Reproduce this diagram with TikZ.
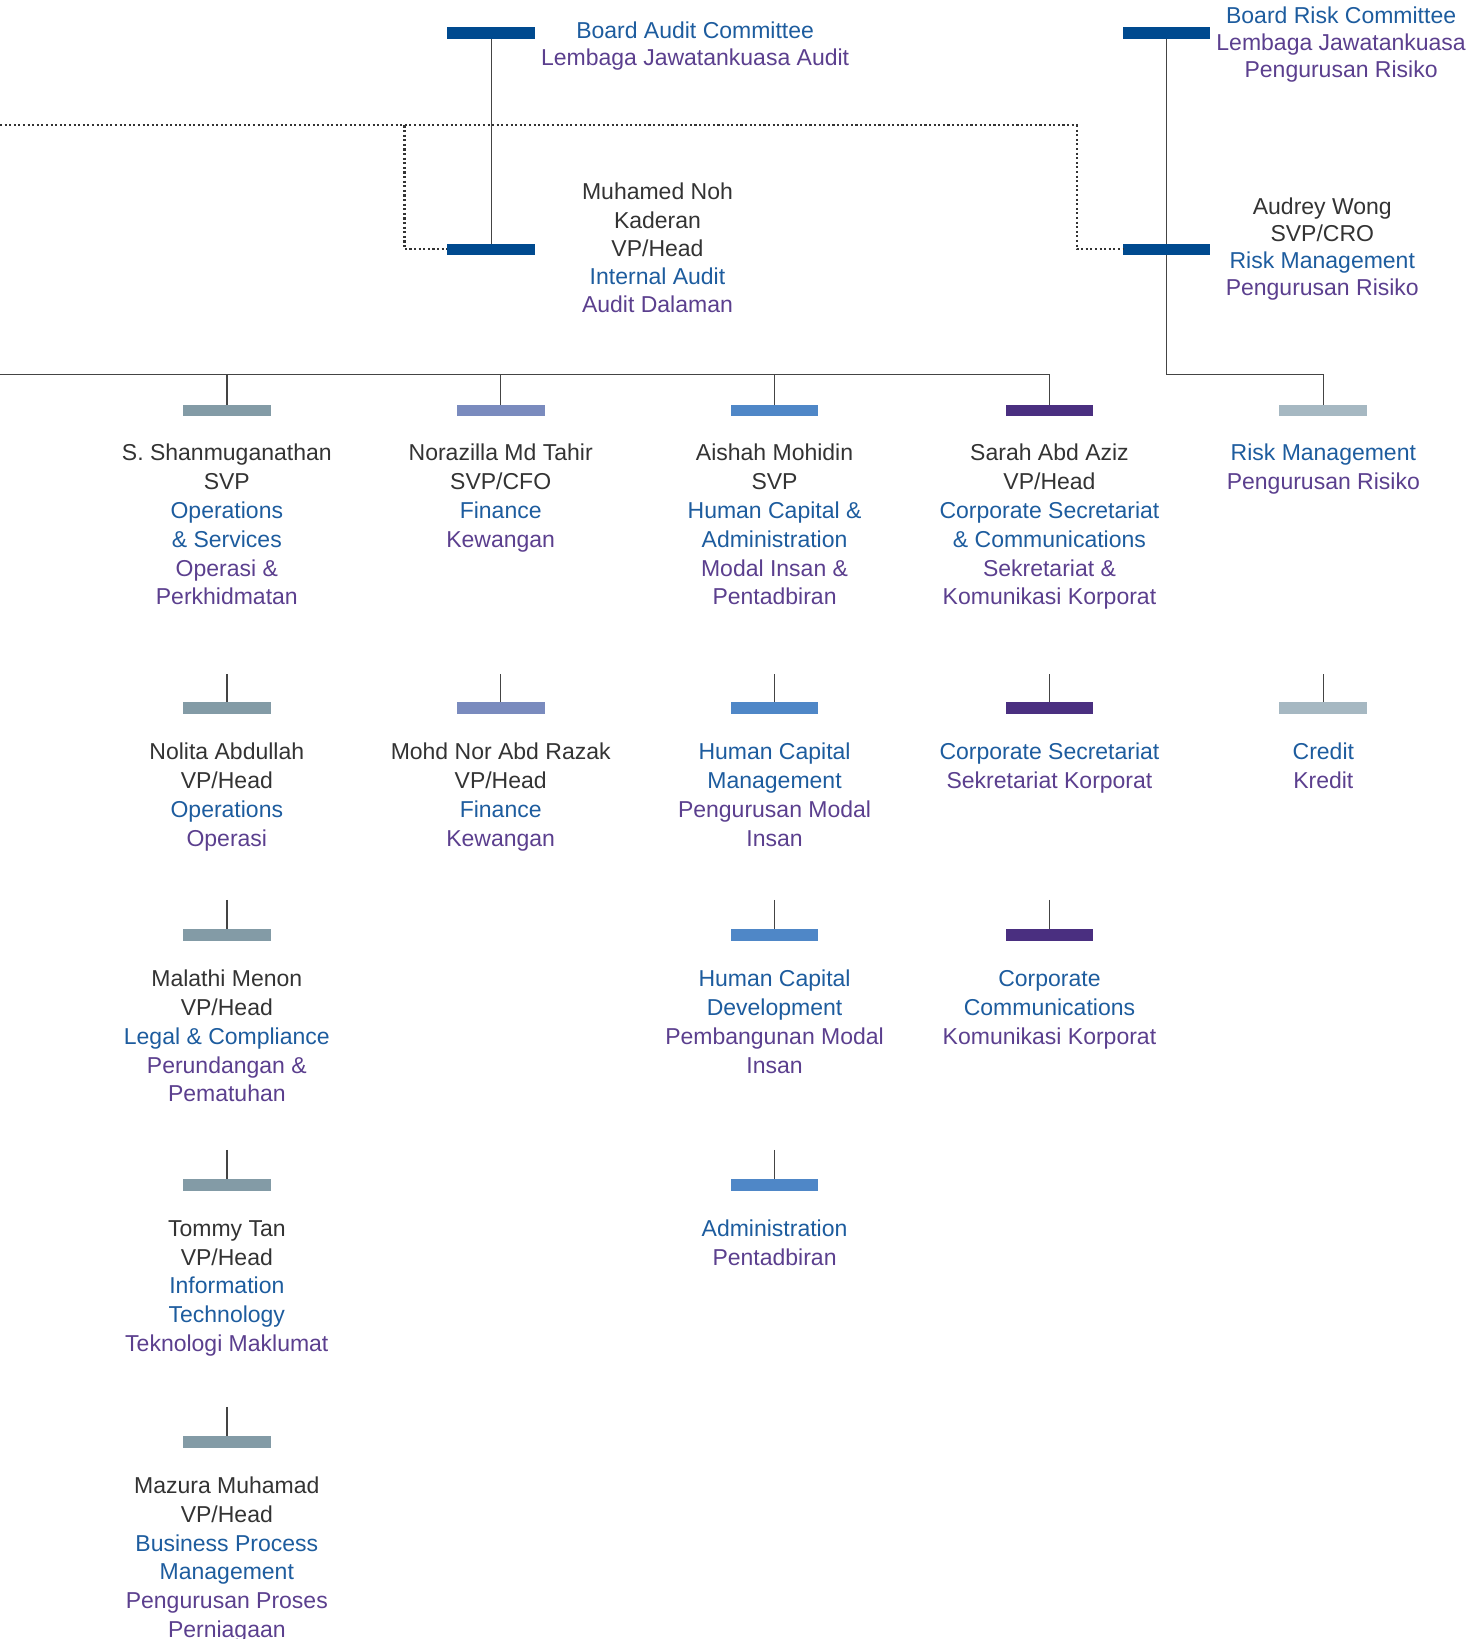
\documentclass[tikz,border=0pt]{standalone}
\usepackage{fontspec}
\setmainfont{Liberation Sans}
\definecolor{topbar}{HTML}{004A8F}
\definecolor{cA}{HTML}{839BA6}
\definecolor{cB}{HTML}{7A8BBE}
\definecolor{cC}{HTML}{4F87C7}
\definecolor{cD}{HTML}{4A2F80}
\definecolor{cE}{HTML}{A6B8C2}
\definecolor{tblue}{HTML}{1D5C9E}
\definecolor{tpurp}{HTML}{5B3F8E}
\definecolor{tdark}{HTML}{333333}
\definecolor{lnc}{HTML}{444444}
\newcommand\blu[1]{\textcolor{tblue}{#1}}
\newcommand\pur[1]{\textcolor{tpurp}{#1}}
\begin{document}
\begin{tikzpicture}[x=1pt,y=-1pt,
  bar/.style={rectangle, minimum width=84pt, minimum height=11pt, inner sep=0pt, outer sep=0pt, draw=none},
  txt/.style={anchor=north, align=center, inner sep=0pt, text=tdark, font=\fontsize{22}{27.6}\selectfont},
  link/.style={draw=lnc, line width=1.3pt},
  dots/.style={draw=tdark, line width=2pt, dash pattern=on 2pt off 2.4pt}]
\useasboundingbox (0,0) rectangle (1417,1568);
% ---- top: audit
\node[bar, fill=topbar] (bac) at (470,31.5) {};
\node[bar, fill=topbar] (ia) at (470,238.5) {};
\node[txt, font=\fontsize{22}{25}\selectfont] (bact) at (665,19.5) {\strut\blu{Board Audit Committee}\\\pur{Lembaga Jawatankuasa Audit}};
\node[txt, font=\fontsize{22}{27}\selectfont] (iat) at (629,172.2) {\strut Muhamed Noh\\Kaderan\\VP/Head\\\blu{Internal Audit}\\\pur{Audit Dalaman}};
\draw[link] (bac.south) -- (ia.north);
% ---- top: risk
\node[bar, fill=topbar] (brc) at (1116,31.5) {};
\node[bar, fill=topbar] (rm) at (1116,238.5) {};
\node[txt, font=\fontsize{22}{26}\selectfont] (brct) at (1283,4.0) {\strut\blu{Board Risk Committee}\\\pur{Lembaga Jawatankuasa}\\\pur{Pengurusan Risiko}};
\node[txt, font=\fontsize{22}{25.7}\selectfont] (rmt) at (1265,187.2) {\strut Audrey Wong\\SVP/CRO\\\blu{Risk Management}\\\pur{Pengurusan Risiko}};
\draw[link] (brc.south) -- (rm.north);
% ---- dotted reporting lines
\coordinate (dl) at (0,120);
\coordinate (dA) at (387,120);
\coordinate (dB) at (1030,120);
\draw[dots] (dl) -- (dB) -- (dB |- rm.west) -- (rm.west);
\draw[dots] (dA) -- (dA |- ia.west) -- (ia.west);
% ---- row 1
\node[bar, fill=cA] (a1) at (217,392.5) {};
\node[bar, fill=cB] (b1) at (479,392.5) {};
\node[bar, fill=cC] (c1) at (741,392.5) {};
\node[bar, fill=cD] (d1) at (1004,392.5) {};
\node[bar, fill=cE] (e1) at (1266,392.5) {};
\coordinate (hl) at (0,358);
\coordinate (hA) at (217,358);
\coordinate (hB) at (479,358);
\coordinate (hC) at (741,358);
\coordinate (hD) at (1004,358);
\coordinate (hE) at (1116,358);
\coordinate (hF) at (1266,358);
\draw[link] (hl) -- (hD) -- (d1.north);
\draw[link] (hA) -- (a1.north);
\draw[link] (hB) -- (b1.north);
\draw[link] (hC) -- (c1.north);
\draw[link] (rm.south) -- (hE) -- (hF) -- (e1.north);
\node[txt] (a1t) at (217,421.2) {\strut S. Shanmuganathan\\SVP\\\blu{Operations}\\\blu{\& Services}\\\pur{Operasi \&}\\\pur{Perkhidmatan}};
\node[txt] (b1t) at (479,421.2) {\strut Norazilla Md Tahir\\SVP/CFO\\\blu{Finance}\\\pur{Kewangan}};
\node[txt] (c1t) at (741,421.2) {\strut Aishah Mohidin\\SVP\\\blu{Human Capital \&}\\\blu{Administration}\\\pur{Modal Insan \&}\\\pur{Pentadbiran}};
\node[txt] (d1t) at (1004,421.2) {\strut Sarah Abd Aziz\\VP/Head\\\blu{Corporate Secretariat}\\\blu{\& Communications}\\\pur{Sekretariat \&}\\\pur{Komunikasi Korporat}};
\node[txt] (e1t) at (1266,421.2) {\strut\blu{Risk Management}\\\pur{Pengurusan Risiko}};
% ---- row 2
\node[bar, fill=cA] (a2) at (217,677.5) {};
\node[bar, fill=cB] (b2) at (479,677.5) {};
\node[bar, fill=cC] (c2) at (741,677.5) {};
\node[bar, fill=cD] (d2) at (1004,677.5) {};
\node[bar, fill=cE] (e2) at (1266,677.5) {};
\coordinate (a2u) at (217,645);
\coordinate (b2u) at (479,645);
\coordinate (c2u) at (741,645);
\coordinate (d2u) at (1004,645);
\coordinate (e2u) at (1266,645);
\draw[link] (a2u) -- (a2.north);
\draw[link] (b2u) -- (b2.north);
\draw[link] (c2u) -- (c2.north);
\draw[link] (d2u) -- (d2.north);
\draw[link] (e2u) -- (e2.north);
\node[txt] (a2t) at (217,707.2) {\strut Nolita Abdullah\\VP/Head\\\blu{Operations}\\\pur{Operasi}};
\node[txt] (b2t) at (479,707.2) {\strut Mohd Nor Abd Razak\\VP/Head\\\blu{Finance}\\\pur{Kewangan}};
\node[txt] (c2t) at (741,707.2) {\strut\blu{Human Capital}\\\blu{Management}\\\pur{Pengurusan Modal}\\\pur{Insan}};
\node[txt] (d2t) at (1004,707.2) {\strut\blu{Corporate Secretariat}\\\pur{Sekretariat Korporat}};
\node[txt] (e2t) at (1266,707.2) {\strut\blu{Credit}\\\pur{Kredit}};
% ---- row 3
\node[bar, fill=cA] (a3) at (217,894.5) {};
\node[bar, fill=cC] (c3) at (741,894.5) {};
\node[bar, fill=cD] (d3) at (1004,894.5) {};
\coordinate (a3u) at (217,861);
\coordinate (c3u) at (741,861);
\coordinate (d3u) at (1004,861);
\draw[link] (a3u) -- (a3.north);
\draw[link] (c3u) -- (c3.north);
\draw[link] (d3u) -- (d3.north);
\node[txt] (a3t) at (217,924.2) {\strut Malathi Menon\\VP/Head\\\blu{Legal \& Compliance}\\\pur{Perundangan \&}\\\pur{Pematuhan}};
\node[txt] (c3t) at (741,924.2) {\strut\blu{Human Capital}\\\blu{Development}\\\pur{Pembangunan Modal}\\\pur{Insan}};
\node[txt] (d3t) at (1004,924.2) {\strut\blu{Corporate}\\\blu{Communications}\\\pur{Komunikasi Korporat}};
% ---- row 4
\node[bar, fill=cA] (a4) at (217,1133.5) {};
\node[bar, fill=cC] (c4) at (741,1133.5) {};
\coordinate (a4u) at (217,1100);
\coordinate (c4u) at (741,1100);
\draw[link] (a4u) -- (a4.north);
\draw[link] (c4u) -- (c4.north);
\node[txt] (a4t) at (217,1163.2) {\strut Tommy Tan\\VP/Head\\\blu{Information}\\\blu{Technology}\\\pur{Teknologi Maklumat}};
\node[txt] (c4t) at (741,1163.2) {\strut\blu{Administration}\\\pur{Pentadbiran}};
% ---- row 5
\node[bar, fill=cA] (a5) at (217,1379.5) {};
\coordinate (a5u) at (217,1346);
\draw[link] (a5u) -- (a5.north);
\node[txt] (a5t) at (217,1409.2) {\strut Mazura Muhamad\\VP/Head\\\blu{Business Process}\\\blu{Management}\\\pur{Pengurusan Proses}\\\pur{Perniagaan}};
\end{tikzpicture}
\end{document}
